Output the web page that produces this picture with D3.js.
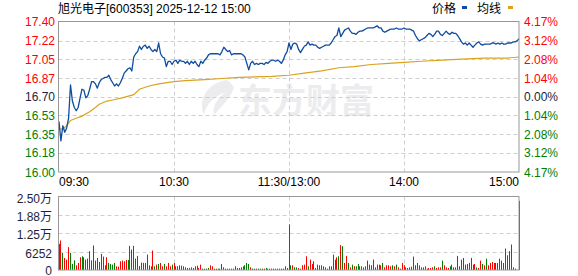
<!DOCTYPE html>
<html lang="zh-CN">
<head>
<meta charset="UTF-8">
<title>旭光电子 分时走势</title>
<script src="https://cdn.jsdelivr.net/npm/d3@7"></script>
<style>
  body { margin: 0; background: #fff; }
  svg text { font-family: "Liberation Sans", Arial, "Noto Sans CJK SC", sans-serif; font-size: 12px; }
  .cjk { font-family: "Noto Sans CJK SC", sans-serif; }
</style>
</head>
<body>
<svg width="578" height="276"></svg>
<script>
// ---- data ----
var title = "旭光电子[600353] 2025-12-12 15:00";
var preClose = 16.70;

var priceTicks = [17.40, 17.22, 17.05, 16.87, 16.70, 16.53, 16.35, 16.18, 16.00];
var pctTicks = ["4.17%", "3.12%", "2.08%", "1.04%", "0.00%", "1.04%", "2.08%", "3.12%", "4.17%"];

var timeTicks = [0, 60, 120, 180, 240];
var timeLabels = ["09:30", "10:30", "11:30/13:00", "14:00", "15:00"];

var volTicks = [25008, 18756, 12504, 6252, 0];
var volLabels = ["2.50万", "1.88万", "1.25万", "6252", "0"];

// one price per minute, 09:30 .. 11:30 then 13:01 .. 15:00
var price = [
  16.47,16.29,16.43,16.37,16.41,16.50,16.81,16.66,16.60,16.57,
  16.60,16.69,16.77,16.76,16.69,16.71,16.77,16.84,16.84,16.82,
  16.78,16.83,16.86,16.87,16.88,16.88,16.90,16.86,16.83,16.80,
  16.82,16.80,16.83,16.87,16.92,16.94,16.96,16.97,16.94,17.07,
  17.10,17.12,17.17,17.14,17.17,17.18,17.15,17.17,17.14,17.12,
  17.14,17.12,17.20,17.10,17.07,17.06,16.98,17.03,17.03,17.00,
  17.03,17.04,17.01,17.04,17.03,17.03,17.01,17.03,17.00,17.03,
  17.01,17.03,17.00,16.98,17.03,17.01,17.04,17.06,17.09,17.10,
  17.10,17.10,17.10,17.10,17.09,17.12,17.16,17.14,17.12,17.13,
  17.09,17.10,17.10,17.10,17.10,17.10,17.09,17.07,17.01,16.95,
  17.01,17.03,17.00,17.01,17.00,17.01,17.01,17.00,17.02,17.01,
  17.03,17.04,17.04,17.03,17.04,17.03,17.01,17.04,17.09,17.12,
  17.20,
  17.14,17.19,17.20,17.19,17.14,17.11,17.14,17.17,17.18,
  17.21,17.18,17.19,17.18,17.18,17.16,17.15,17.16,17.17,17.18,
  17.18,17.18,17.20,17.23,17.26,17.27,17.34,17.26,17.29,17.32,
  17.33,17.34,17.31,17.29,17.29,17.28,17.30,17.31,17.31,17.32,
  17.33,17.34,17.34,17.34,17.34,17.35,17.36,17.34,17.34,17.31,
  17.30,17.31,17.32,17.33,17.33,17.33,17.34,17.33,17.33,17.33,
  17.34,17.33,17.33,17.33,17.32,17.31,17.27,17.24,17.22,17.23,
  17.24,17.25,17.27,17.29,17.28,17.26,17.28,17.31,17.31,17.28,
  17.27,17.29,17.31,17.29,17.28,17.30,17.29,17.29,17.27,17.24,
  17.21,17.19,17.20,17.18,17.20,17.18,17.16,17.18,17.20,17.21,
  17.19,17.18,17.19,17.19,17.19,17.19,17.20,17.20,17.19,17.20,
  17.19,17.20,17.19,17.19,17.20,17.20,17.20,17.21,17.21,17.22,
  17.24
];

// average price line, read at these minutes
var avgMinute = [0, 2, 4, 6, 9, 12, 16, 19, 21, 25, 28, 33, 39, 42, 47, 52, 60, 66, 76, 85,
  94, 111, 120, 128, 137, 146, 154, 163, 172, 180, 189, 200, 210, 222, 234, 240];
var avgPrice = [16.40, 16.40, 16.43, 16.48, 16.50, 16.52, 16.56, 16.60, 16.63, 16.66, 16.67, 16.69,
  16.72, 16.77, 16.80, 16.82, 16.84, 16.85, 16.86, 16.87, 16.88, 16.89, 16.90, 16.92, 16.94,
  16.97, 16.98, 17.00, 17.01, 17.02, 17.03, 17.04, 17.05, 17.06, 17.06, 17.07];

// volume per minute and bar colour (r = up, g = down)
var volume = [
  8900,10050,5820,4110,3540,7770,5820,2060,3310,1600,
  2400,4340,4680,4340,3540,3880,6400,3310,8340,3200,
  4110,2740,5480,4570,1600,4340,2400,2060,1830,2400,
  1260,1140,2970,3200,2970,3430,3430,8220,6970,8220,
  3880,4800,1370,2510,2400,2400,5250,1600,1260,6620,
  1260,1830,2060,2400,1260,2060,1260,2400,1260,1830,
  2400,1260,1260,1600,1480,1260,910,690,690,910,
  690,1260,1480,690,1830,460,460,460,690,1600,
  1260,460,460,460,460,2060,910,460,460,460,
  460,460,1260,690,690,910,1260,1600,2400,2060,
  910,460,460,460,460,460,460,460,690,460,
  460,460,460,460,460,460,460,460,1260,690,
  15530,
  1600,1600,910,910,690,460,1600,1830,4680,1260,
  3540,2060,2970,690,1830,1600,1600,1260,910,460,
  1260,1260,5250,3540,4340,4680,8450,8110,2400,4800,
  2400,910,1830,1260,1260,2060,1260,1260,910,1260,
  3200,1830,1600,3540,910,1830,1830,1600,2400,910,
  1600,1600,1260,1600,1260,1830,910,460,2400,1600,
  910,690,910,1140,4570,1600,2400,1600,910,910,
  1260,460,690,690,910,1260,690,910,910,3200,
  1600,910,690,1260,1830,910,910,4800,1260,3540,
  4110,1830,2060,2400,4110,1830,2060,910,690,3200,
  2060,1600,3880,1600,2400,2740,2400,2400,2400,3880,
  3200,2400,7310,5020,6400,8680,910,460,0,23530
];
var volDir = (
  "grgrrrgggr" + "rrggrrrrrg" + "gggrrrgggg" + "rrrrrrgrgr" + "grggrrgggr" + "grgrrgrrrg" +
  "rggrggrggg" + "rggrrggggr" + "rgrgrrrggg" + "ggrrgrgggg" + "rggrgggrgr" + "grrggggrrg" +
  "r" +
  "grggrgrrrg" + "rrgrggrgrr" + "rrrrrgrgrr" + "grgrggrrgr" + "rgrrgrgrgr" + "rrrgrgrgrr" +
  "ggrrgggrrr" + "rgrrrgrrrg" + "rrrgrgrgrg" + "ggrrgrrgrr" + "grgrrrrrrg" + "rrrrrrgrrr"
).split("");

// ---- layout ----
var svg = d3.select("svg");
var plotL = 58.5, plotR = 519, plotT = 21.5, plotB = 172;
var volT = 196.5, volB = 270;

var red = "#ff0000", green = "#008000", ink = "#1e1e3c", gridColor = "#cfcfcf", frame = "#999999";
var priceColor = "#0f4d9e", avgColor = "#dba21e";

var x = d3.scaleLinear().domain([0, 240]).range([plotL + 0.5, plotR]);
var yPrice = d3.scaleLinear().domain([16.00, 17.40]).range([plotB, plotT]);
var yVol = d3.scaleLinear().domain([0, 25008]).range([volB, volT]);

function tickColor(i) {
  var v = priceTicks[i];
  if (Math.abs(v - preClose) < 0.001) return ink;
  return v > preClose ? red : green;
}

// title + legend
svg.append("text").attr("x", 58).attr("y", 13).attr("fill", "#000").text(title);
svg.append("text").attr("class", "cjk").attr("x", 432).attr("y", 13).attr("fill", "#000").text("价格");
svg.append("rect").attr("x", 462).attr("y", 6).attr("width", 5).attr("height", 3).attr("fill", priceColor);
svg.append("text").attr("class", "cjk").attr("x", 477).attr("y", 13).attr("fill", "#000").text("均线");
svg.append("rect").attr("x", 508).attr("y", 6).attr("width", 5).attr("height", 3).attr("fill", avgColor);

// watermark
var wm = svg.append("g").attr("fill", "#ececef");
wm.append("path")
  .attr("d", "M226,80 C206,84 198,100 204,115 C206,104 214,96 226,92 C216,99 212,108 214,115 C222,106 230,98 234,88 C232,84 230,81 226,80 Z");
wm.append("text").attr("class", "cjk").attr("x", 238).attr("y", 113)
  .style("font-size", "34px").style("font-weight", "bold").text("东方财富");

// price panel grid
var pg = svg.append("g");
pg.selectAll("line.h").data(priceTicks.slice(1, -1)).enter().append("line")
  .attr("class", "h")
  .attr("x1", plotL).attr("x2", plotR)
  .attr("y1", function(d) { return Math.round(yPrice(d)) + 0.5; })
  .attr("y2", function(d) { return Math.round(yPrice(d)) + 0.5; })
  .attr("stroke", gridColor).attr("stroke-dasharray", "4,3");
pg.selectAll("line.v").data(timeTicks.slice(1, -1)).enter().append("line")
  .attr("class", "v")
  .attr("x1", function(d) { return Math.round(x(d)) + 0.5; })
  .attr("x2", function(d) { return Math.round(x(d)) + 0.5; })
  .attr("y1", plotT).attr("y2", plotB)
  .attr("stroke", gridColor).attr("stroke-dasharray", "4,3");

// average + price lines
svg.append("path")
  .datum(avgMinute.map(function(m, i) { return [m, avgPrice[i]]; }))
  .attr("fill", "none").attr("stroke", avgColor).attr("stroke-width", 1.2)
  .attr("d", d3.line().x(function(d) { return x(d[0]); }).y(function(d) { return yPrice(d[1]); }));

svg.append("path")
  .datum(price)
  .attr("fill", "none").attr("stroke", priceColor).attr("stroke-width", 1.3)
  .attr("stroke-linejoin", "round")
  .attr("d", d3.line().x(function(d, i) { return x(i); }).y(function(d) { return yPrice(d); }));

svg.append("rect").attr("x", plotL).attr("y", plotT).attr("width", plotR - plotL).attr("height", plotB - plotT)
  .attr("fill", "none").attr("stroke", frame);

// price labels, left and right
svg.selectAll("text.pl").data(priceTicks).enter().append("text")
  .attr("class", "pl")
  .attr("x", 55).attr("y", function(d) { return yPrice(d) + 4.5; })
  .attr("text-anchor", "end")
  .attr("fill", function(d, i) { return tickColor(i); })
  .text(function(d) { return d.toFixed(2); });
svg.selectAll("text.pr").data(pctTicks).enter().append("text")
  .attr("class", "pr")
  .attr("x", 524).attr("y", function(d, i) { return yPrice(priceTicks[i]) + 4.5; })
  .attr("fill", function(d, i) { return tickColor(i); })
  .text(function(d) { return d; });

// time labels
svg.selectAll("text.tl").data(timeTicks).enter().append("text")
  .attr("class", "tl")
  .attr("x", function(d) { return x(d); }).attr("y", 186)
  .attr("text-anchor", function(d, i) { return i === 0 ? "start" : (i === timeTicks.length - 1 ? "end" : "middle"); })
  .attr("fill", "#000")
  .text(function(d, i) { return timeLabels[i]; });

// volume panel
var vg = svg.append("g");
vg.selectAll("line.h").data(volTicks.slice(1, -1)).enter().append("line")
  .attr("class", "h")
  .attr("x1", plotL).attr("x2", plotR)
  .attr("y1", function(d) { return Math.round(yVol(d)) + 0.5; })
  .attr("y2", function(d) { return Math.round(yVol(d)) + 0.5; })
  .attr("stroke", gridColor).attr("stroke-dasharray", "4,3");
vg.selectAll("line.v").data(timeTicks.slice(1, -1)).enter().append("line")
  .attr("class", "v")
  .attr("x1", function(d) { return Math.round(x(d)) + 0.5; })
  .attr("x2", function(d) { return Math.round(x(d)) + 0.5; })
  .attr("y1", volT).attr("y2", volB)
  .attr("stroke", gridColor).attr("stroke-dasharray", "4,3");

vg.selectAll("rect.bar").data(volume).enter().append("rect")
  .attr("class", "bar")
  .attr("x", function(d, i) { return Math.floor(x(i)); })
  .attr("y", function(d) { return yVol(d); })
  .attr("width", 1)
  .attr("height", function(d) { return volB - yVol(d); })
  .attr("fill", function(d, i) { return volDir[i] === "g" ? green : red; });

svg.append("rect").attr("x", plotL).attr("y", volT).attr("width", plotR - plotL).attr("height", volB - volT)
  .attr("fill", "none").attr("stroke", frame);

svg.selectAll("text.vl").data(volTicks).enter().append("text")
  .attr("class", "vl")
  .attr("x", 52).attr("y", function(d) { return yVol(d) + (d === 0 ? 4.5 : 6); })
  .attr("text-anchor", "end")
  .attr("fill", ink)
  .text(function(d, i) { return volLabels[i]; });
</script>
</body>
</html>
